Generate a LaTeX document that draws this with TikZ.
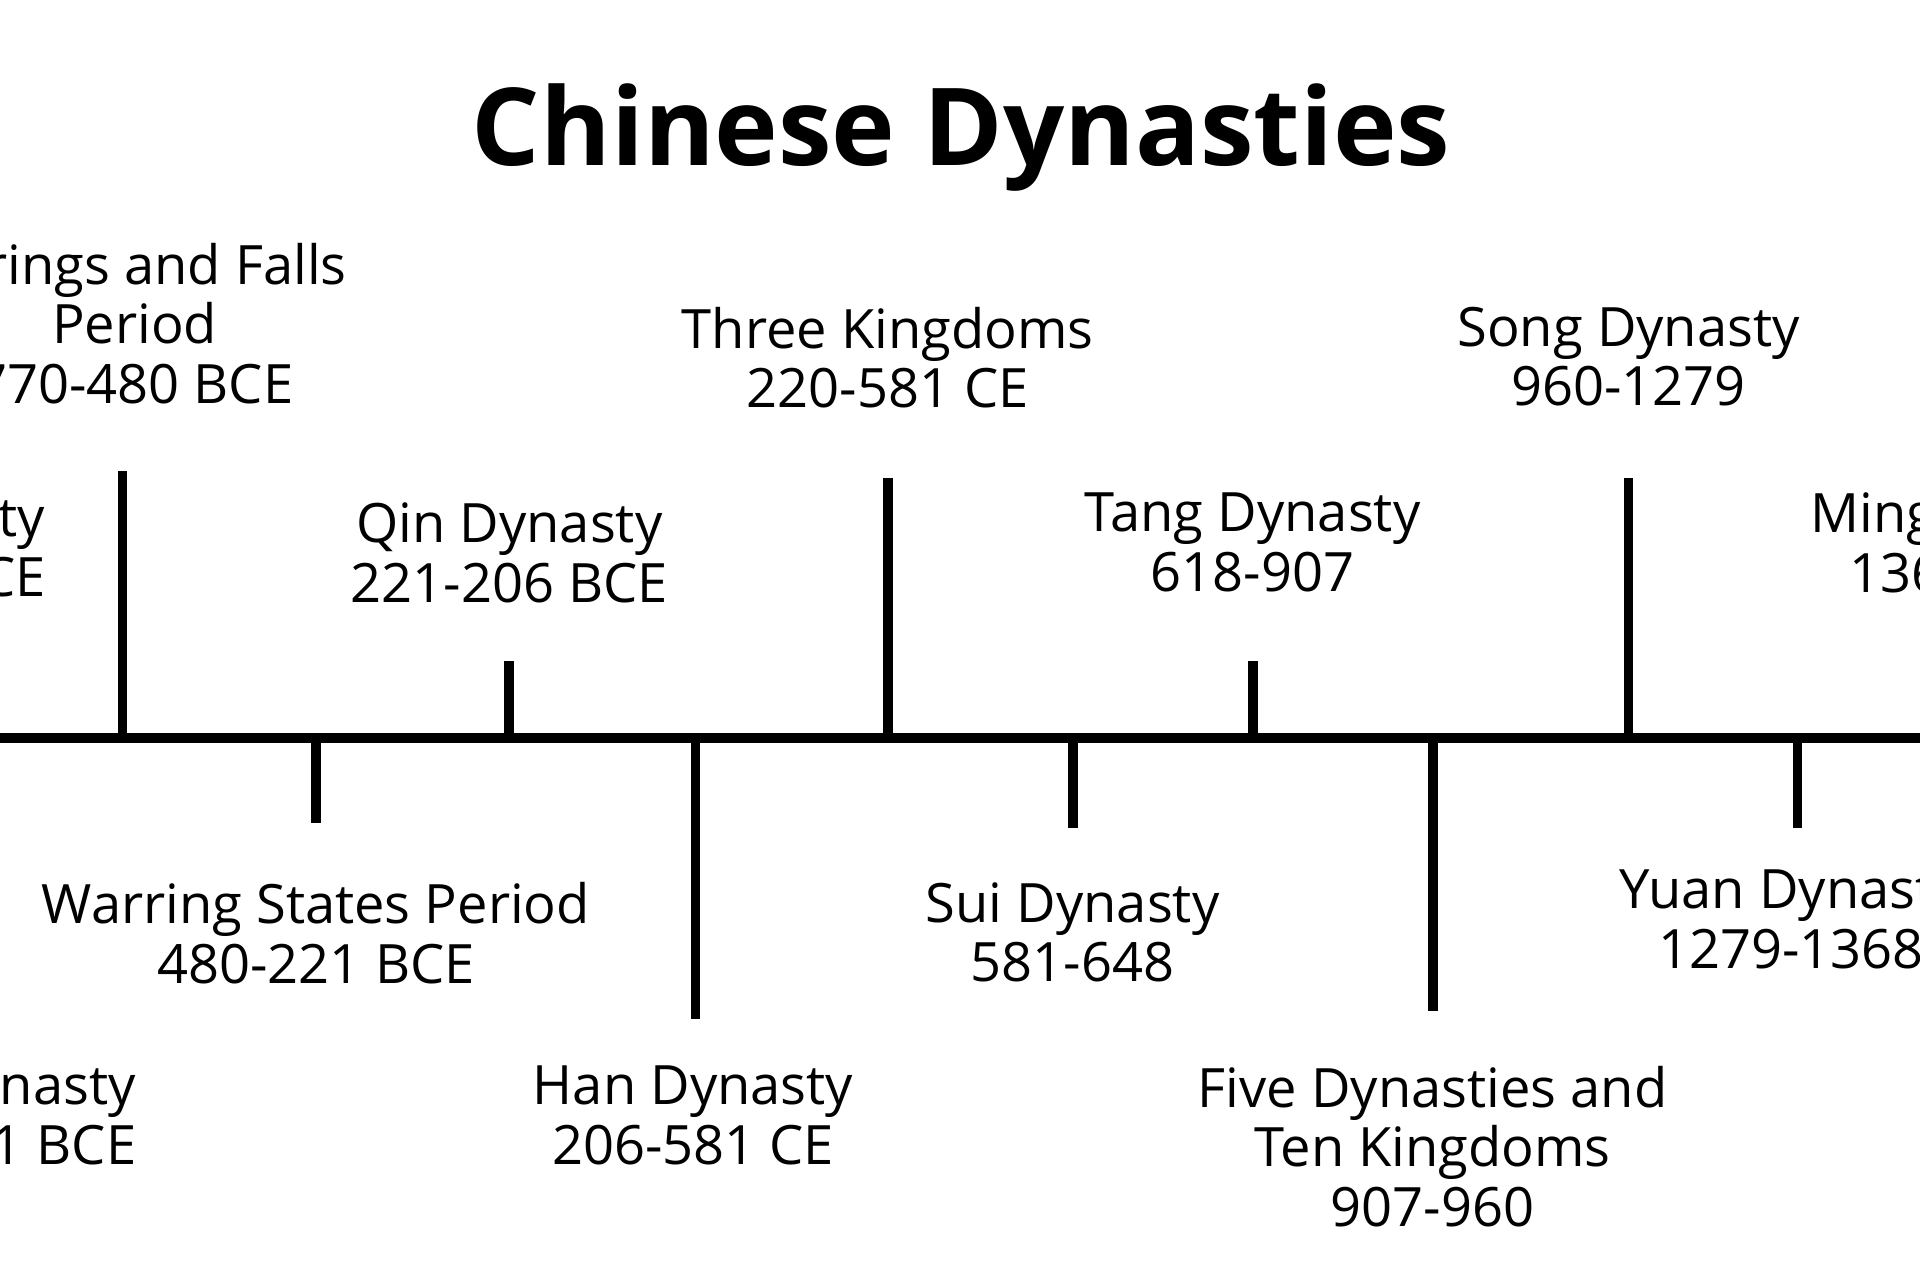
\documentclass[tikz,border=0pt]{standalone}
\usepackage{fontspec}
\setmainfont{Open Sans}
\begin{document}
\begin{tikzpicture}[x=0.01cm,y=-0.01cm,
  lbl/.style={align=center,font=\fontsize{12.6}{13.8}\selectfont,inner sep=0pt,anchor=north},
  tick/.style={line width=0.08cm},
  axis/.style={line width=0.08cm}]
\useasboundingbox (0,0) rectangle (1568,1045);
\clip (0,0) rectangle (1568,1045);
\node[font=\fontsize{25}{30}\selectfont\bfseries] (title) at (785,112) {Chinese Dynasties};
\coordinate (L) at (-10,603); \coordinate (R) at (1580,603);
\draw[axis] (L) -- (R);
\foreach \n/\x/\y in {a/100/385,b/258/672,c/416/540,d/568/832,e/725/390,f/876/676,g/1023/540,h/1170/826,i/1330/390,j/1468/676}{
  \coordinate (\n0) at (\x,603); \coordinate (\n1) at (\x,\y);
  \draw[tick] (\n0) -- (\n1);}
\node[lbl,anchor=north east] (zhou) at (38,404) {Zhou Dynasty\\1046-770 BCE};
\node[lbl,anchor=north east] (shang) at (112,868) {Zhou Dynasty\\1046-221 BCE};
\node[lbl] (sf) at (110,198) {Springs and Falls\\Period\\770-480 BCE};
\node[lbl] (ws) at (258,720) {Warring States Period\\480-221 BCE};
\node[lbl] (qin) at (416,410) {Qin Dynasty\\221-206 BCE};
\node[lbl] (han) at (566,870) {Han Dynasty\\206-581 CE};
\node[lbl] (tk) at (725,250) {Three Kingdoms\\220-581 CE};
\node[lbl] (sui) at (876,720) {Sui Dynasty\\581-648};
\node[lbl] (tang) at (1023,402) {Tang Dynasty\\618-907};
\node[lbl] (five) at (1170,870) {Five Dynasties and\\Ten Kingdoms\\907-960};
\node[lbl] (song) at (1330,250) {Song Dynasty\\960-1279};
\node[lbl,anchor=north west] (yuan) at (1322,710) {Yuan Dynasty\\1279-1368};
\node[lbl,anchor=north west] (ming) at (1478,402) {Ming Dynasty\\1368-1644};
\end{tikzpicture}
\end{document}
